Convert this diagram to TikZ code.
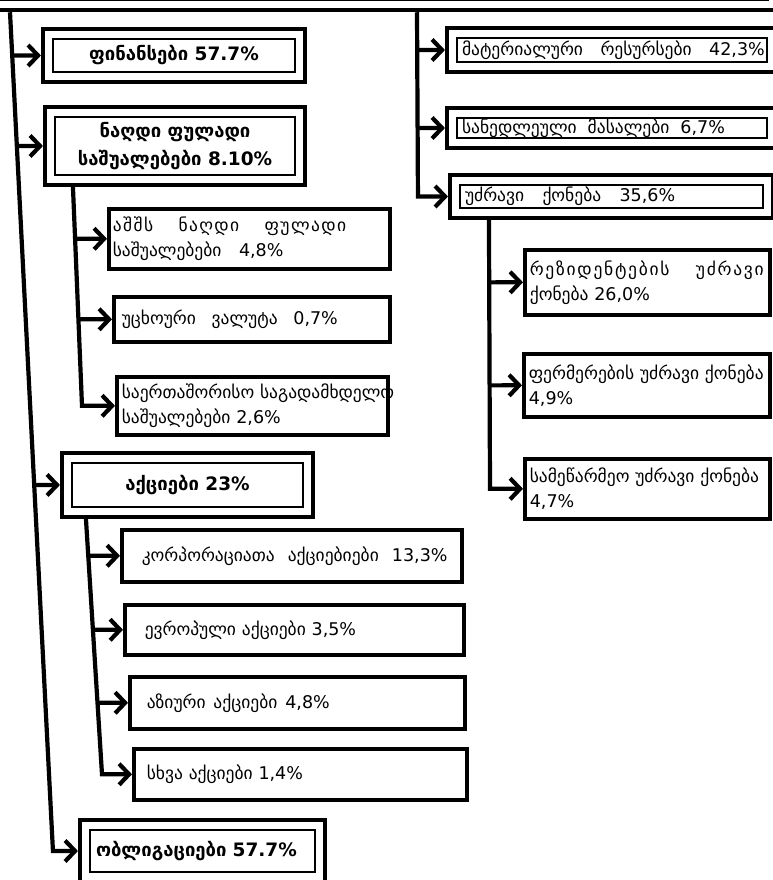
\documentclass[tikz,border=0pt]{standalone}
\usepackage{fontspec}
\setmainfont{DejaVu Sans}
\newcommand\itemfont{\fontsize{17.5}{25}\selectfont}
\newcommand\wsp[1]{\spaceskip=#1em\relax}
\newcommand\track[3]{\mbox{\addfontfeature{LetterSpace=#1}\wsp{#2}#3}}
\usetikzlibrary{positioning,arrows.meta,fit,calc}

\begin{document}
\begin{tikzpicture}[x=1pt, y=-1pt, headbox/.style={draw, line width=1.6pt, align=center, inner sep=0pt, font=\fontsize{18.5}{28}\selectfont\bfseries}, matbox/.style={draw, line width=1.6pt, align=left, inner sep=0pt, inner xsep=5pt, font=\itemfont}, framebox/.style={draw, line width=4.5pt, inner sep=9pt}, itembox/.style={draw, line width=3.6pt, anchor=north west, align=left, inner sep=0pt, inner xsep=8pt, font=\itemfont, text width=#1}, rel/.style={-{Straight Barb[length=10pt, width=21pt]}, line width=4.2pt}]
\useasboundingbox (0,0) rectangle (773,880);
\node[draw, line width=1.6pt, minimum width=768, minimum height=40, anchor=south] (root) at (384,1) {};
\node[framebox, fit=(root)] (rootf) {};
\node[headbox, minimum width=242, minimum height=33] (fin) at (174,55.5) {ფინანსები 57.7\%};
\node[framebox, fit=(fin)] (finf) {};
\node[headbox, minimum width=240, minimum height=58] (cash) at (175,146) {ნაღდი ფულადი\\საშუალებები 8.10\%};
\node[framebox, fit=(cash)] (cashf) {};
\node[itembox=273, minimum height=60, inner xsep=4pt] (usd) at (107,207) {\wsp{1.0}\track{8}{1.45}{აშშს ნაღდი ფულადი}\\საშუალებები 4,8\%};
\node[itembox=260, minimum height=45] (curr) at (112,295) {\wsp{0.9}უცხოური ვალუტა 0,7\%};
\node[itembox=261, minimum height=58, inner xsep=5pt] (intl) at (115,375) {\mbox{საერთაშორისო საგადამხდელო}\\საშუალებები 2,6\%};
\node[headbox, minimum width=231, minimum height=44] (stock) at (187.5,485) {აქციები 23\%};
\node[framebox, fit=(stock)] (stockf) {};
\node[itembox=300, minimum height=52, inner xsep=20pt] (corp) at (120,528) {\wsp{0.75}\mbox{კორპორაციათა აქციებიები 13,3\%}};
\node[itembox=299, minimum height=50, inner xsep=20pt] (euro) at (123,603) {ევროპული აქციები 3,5\%};
\node[itembox=301, minimum height=52, inner xsep=17pt] (asia) at (128,675) {\wsp{0.45}აზიური აქციები 4,8\%};
\node[itembox=307, minimum height=51, inner xsep=13pt] (other) at (132,747) {სხვა აქციები 1,4\%};
\node[headbox, minimum width=225, minimum height=42, text width=213, align=left] (bond) at (202.5,851) {ობლიგაციები 57.7\%};
\node[framebox, fit=(bond)] (bondf) {};
\node[matbox, minimum height=24, text width=300] (mat) at (612,50) {\wsp{1.0}\mbox{მატერიალური რესურსები 42,3\%}};
\node[framebox, fit=(mat)] (matf) {};
\node[matbox, minimum height=20, text width=300] (raw) at (612,128) {\wsp{0.63}სანედლეული მასალები 6,7\%};
\node[framebox, fit=(raw)] (rawf) {};
\node[matbox, minimum height=23, text width=293] (real) at (611.5,196.5) {\wsp{1.05}უძრავი ქონება 35,6\%};
\node[framebox, fit=(real)] (realf) {};
\node[itembox=235, minimum height=65, inner xsep=5pt] (res) at (523,248) {\track{10}{1.5}{რეზიდენტების უძრავი}\\ქონება 26,0\%};
\node[itembox=236, minimum height=63, inner xsep=5pt] (farm) at (522,352) {ფერმერების უძრავი ქონება\\4,9\%};
\node[itembox=235, minimum height=60, inner xsep=5pt] (biz) at (523,457) {სამეწარმეო უძრავი ქონება\\4,7\%};
\coordinate (l1) at ([xshift=-374]rootf.south);
\path (bondf.west) ++(-25,0) coordinate (l2);
\draw[rel] (l1) -- (l2) -- (bondf.west);
\draw[rel] (intersection of l1--l2 and finf.west--finf.east) -- (finf.west);
\draw[rel] (intersection of l1--l2 and cashf.west--cashf.east) -- (cashf.west);
\draw[rel] (intersection of l1--l2 and stockf.west--stockf.east) -- (stockf.west);
\coordinate (c1) at ([xshift=30]cashf.south west);
\path (intl.west) ++(-33,0) coordinate (c2);
\draw[rel] (c1) -- (c2) -- (intl.west);
\draw[rel] (intersection of c1--c2 and usd.west--usd.east) -- (usd.west);
\draw[rel] (intersection of c1--c2 and curr.west--curr.east) -- (curr.west);
\coordinate (s1) at ([xshift=26]stockf.south west);
\path (other.west) ++(-30,0) coordinate (s2);
\draw[rel] (s1) -- (s2) -- (other.west);
\draw[rel] (intersection of s1--s2 and corp.west--corp.east) -- (corp.west);
\draw[rel] (intersection of s1--s2 and euro.west--euro.east) -- (euro.west);
\draw[rel] (intersection of s1--s2 and asia.west--asia.east) -- (asia.west);
\coordinate (r1) at ([xshift=33]rootf.south);
\path (realf.west) ++(-30,0) coordinate (r2);
\draw[rel] (r1) -- (r2) -- (realf.west);
\draw[rel] (intersection of r1--r2 and matf.west--matf.east) -- (matf.west);
\draw[rel] (intersection of r1--r2 and rawf.west--rawf.east) -- (rawf.west);
\coordinate (q1) at ([xshift=41]realf.south west);
\path (biz.west) ++(-33,0) coordinate (q2);
\draw[rel] (q1) -- (q2) -- (biz.west);
\draw[rel] (intersection of q1--q2 and res.west--res.east) -- (res.west);
\draw[rel] (intersection of q1--q2 and farm.west--farm.east) -- (farm.west);
\end{tikzpicture}
\end{document}
